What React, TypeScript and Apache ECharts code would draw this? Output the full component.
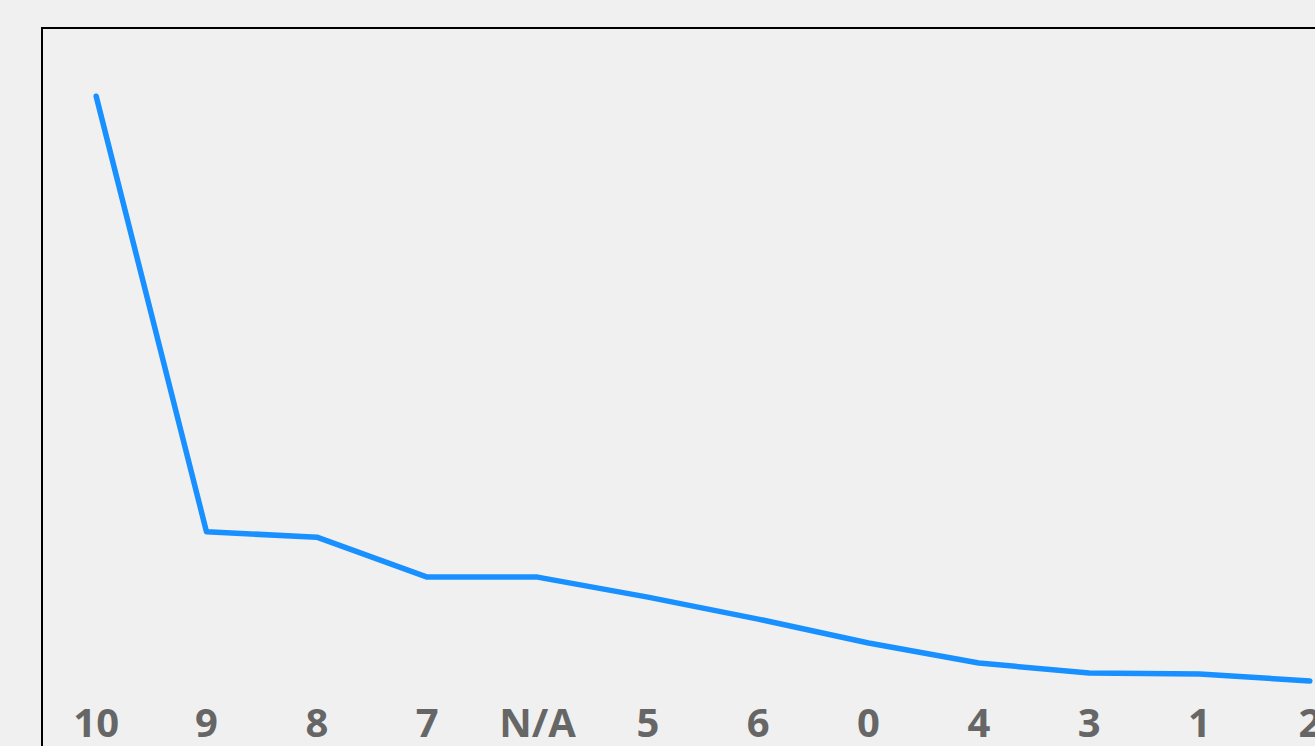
import React, { useEffect, useRef } from "react";
import * as echarts from "echarts";

const categories = ["10", "9", "8", "7", "N/A", "5", "6", "0", "4", "3", "1", "2"];
const values = [89.6, 24.2, 23.4, 17.4, 17.4, 14.4, 11.1, 7.5, 4.5, 3.0, 2.85, 1.8];

export default function App() {
  const ref = useRef<HTMLDivElement>(null);
  useEffect(() => {
    const chart = echarts.init(ref.current!, undefined, { renderer: "svg" });
    chart.setOption({
      animation: false,
      backgroundColor: "#f0f0f0",
      grid: { left: 41, top: 27, width: 1324, height: 666, show: false },
      graphic: [
        {
          type: "rect",
          shape: { x: 42, y: 28, width: 1400, height: 800 },
          style: { fill: "none", stroke: "#000", lineWidth: 2 },
          silent: true,
        },
      ],
      xAxis: {
        type: "category",
        data: categories,
        boundaryGap: true,
        axisLine: { show: false },
        axisTick: { show: false },
        splitLine: { show: false },
        axisLabel: {
          margin: 10,
          fontSize: 40,
          lineHeight: 36,
          fontWeight: "bold",
          color: "#666666",
          fontFamily: "Open Sans",
          interval: 0,
        },
      },
      yAxis: {
        type: "value",
        min: 0,
        max: 100,
        show: false,
        splitLine: { show: false },
      },
      series: [
        {
          type: "line",
          data: values,
          symbol: "none",
          lineStyle: { color: "#1890ff", width: 5.5, cap: "round", join: "round" },
          itemStyle: { color: "#1890ff" },
        },
      ],
    });
    return () => chart.dispose();
  }, []);
  return (
    <div style={{ position: "fixed", left: 0, top: 0, width: 1315, height: 746, overflow: "hidden", background: "#f0f0f0" }}>
      <div ref={ref} style={{ position: "absolute", left: 0, top: 0, width: 1420, height: 800 }} />
    </div>
  );
}
